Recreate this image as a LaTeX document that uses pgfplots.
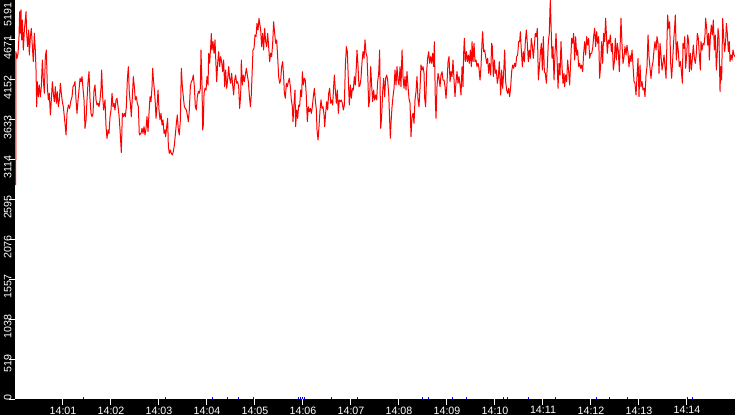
\documentclass[border=0pt]{standalone}
\usepackage{fontspec}
\setmainfont{Liberation Sans}
\usepackage{pgfplots}
\pgfplotsset{compat=1.18}

% time in seconds after 14:00:00, value
\pgfplotstableread{
t v
0.9 2784
1.1 4519
2.5 4432
3.8 4497
5.0 4714
5.8 5039
6.7 4757
7.5 5061
8.3 4671
9.2 4931
10.4 4540
11.7 4801
12.9 4931
13.8 5039
14.6 4757
15.8 4584
17.1 4801
17.9 4475
19.2 4714
20.4 4822
21.7 4584
22.9 4389
24.2 4757
25.4 4540
26.3 4280
27.1 3803
27.9 4128
29.2 3933
30.4 4085
31.7 3933
32.9 4063
34.2 4410
35.4 4150
36.7 3977
37.9 4454
39.2 4540
40.4 4063
41.7 3890
42.9 3977
44.2 3695
45.4 3890
46.7 4128
47.9 3977
49.2 3868
50.4 4063
51.7 3847
52.9 3998
54.2 3803
55.4 3890
56.7 4107
57.9 3977
59.2 3868
60.4 3803
62.5 3586
63.8 3435
65.0 3716
66.7 3825
68.3 3781
69.6 3868
71.3 3933
72.5 4063
73.8 4085
75.0 4128
76.3 3890
77.5 3716
78.8 3890
80.0 4020
81.3 4172
82.5 4128
83.8 4194
85.0 4042
86.3 3890
87.5 3521
88.8 3630
90.0 3890
91.3 4128
92.5 4258
93.8 3890
95.0 3716
96.3 3673
97.5 3716
98.8 4020
100.0 4085
101.3 3890
102.5 3825
103.8 3847
105.0 3803
106.3 3890
107.5 4042
108.3 4280
109.6 3933
110.8 3760
112.5 3890
113.8 3543
115.0 3391
116.3 3500
117.5 3456
118.8 3673
120.0 3760
121.3 3977
122.5 3803
123.8 3847
125.0 3760
126.3 3890
127.5 3912
128.8 3803
130.0 3695
131.3 3500
132.9 3205
134.2 3716
135.4 3673
136.7 3716
137.9 3673
139.2 3803
140.4 4150
141.7 4324
142.9 3977
144.2 3847
145.4 3673
146.7 3933
147.9 4194
149.2 4063
150.4 3890
151.7 3933
152.9 3847
154.2 3803
155.4 3435
157.5 3456
158.8 3521
160.0 3456
161.3 3543
162.5 3435
163.8 3521
165.0 3673
166.3 3478
167.5 3716
168.8 3933
170.0 3868
171.3 4063
172.1 4302
172.9 4172
174.2 4020
175.4 3847
176.3 3651
177.5 3803
178.8 4020
180.0 3760
181.3 3630
182.5 3716
183.8 3565
185.0 3630
186.3 3456
187.5 3500
188.3 3413
189.6 3543
190.8 3651
191.7 3283
192.9 3196
194.2 3239
195.4 3196
196.7 3174
197.9 3218
199.2 3304
200.4 3435
201.7 3586
202.9 3695
204.2 3500
205.4 3435
206.7 3630
207.9 4302
209.2 4063
210.4 3933
211.7 3803
212.9 3781
214.2 3760
215.4 3695
216.7 3608
217.9 3760
219.2 4063
220.4 4128
221.7 4150
222.9 4215
224.2 4063
225.4 3803
226.7 3760
227.9 3933
229.2 4003
230.4 3977
231.7 4042
232.5 4540
233.8 4063
234.6 3500
235.4 3565
236.3 3977
237.5 4042
238.8 4020
240.0 4194
241.3 4085
242.1 4497
243.3 4367
244.6 4584
245.4 4757
246.3 4540
247.5 4649
248.8 4497
250.0 4671
251.3 4324
252.1 4128
253.3 4367
254.6 4519
255.8 4324
257.1 4454
258.3 4389
259.6 4258
260.8 4410
262.1 4063
263.3 4280
264.6 4042
265.8 4150
267.1 4324
268.3 4172
269.6 4107
270.8 4237
272.1 4085
273.3 3955
274.6 4150
275.8 4215
277.1 4107
278.3 4128
279.6 4063
280.8 3781
282.1 3955
282.9 4410
284.2 4085
285.4 4215
286.7 4128
287.9 4215
289.2 4302
290.4 4215
291.7 4128
292.9 3955
294.2 3803
295.4 3955
296.7 4324
297.5 4540
298.8 4562
300.0 4736
301.3 4714
302.5 4887
303.8 4801
305.0 4952
307.1 4801
308.3 4584
309.6 4757
310.8 4540
312.1 4822
313.3 4649
314.6 4584
315.8 4757
317.1 4584
318.3 4389
319.6 4497
320.8 4454
322.1 4627
323.3 4909
324.6 4757
325.8 4627
327.1 4671
328.3 4454
329.6 4194
330.8 4107
332.1 4150
333.3 4324
334.6 4389
335.8 4194
336.7 3977
337.9 3912
339.2 4107
340.4 4063
341.7 4128
342.9 4172
344.2 4063
345.4 3890
346.7 3803
347.5 3608
348.8 3847
350.0 4020
350.8 3543
352.1 3760
353.3 3651
354.6 3825
355.8 3803
357.1 4020
358.3 3933
359.2 4258
360.4 4085
361.7 4172
362.9 4150
364.2 3933
365.4 3608
366.7 3803
367.9 3738
369.2 3781
370.4 3716
371.7 3803
372.9 3933
374.2 4042
375.4 3890
376.7 3760
377.5 3500
378.8 3370
380.0 3543
381.3 3760
382.5 3890
383.8 3781
385.0 3803
386.3 3695
387.1 3543
388.3 3716
389.6 3868
390.8 3760
392.1 3977
393.3 4042
394.6 3847
395.8 3890
397.1 3825
398.3 4063
399.2 4215
400.4 4020
401.7 3847
402.9 4020
404.2 3716
405.4 3890
406.7 3868
407.9 3890
409.2 3847
410.4 3760
411.7 3825
412.9 4324
414.2 4584
415.4 4519
416.7 4150
417.9 3825
419.2 4085
420.4 3912
421.7 4042
422.9 4020
424.2 4194
425.4 4085
426.7 4324
427.5 4540
428.8 4324
430.0 4063
431.3 4085
432.5 4172
433.8 4389
435.0 4519
436.3 4432
437.5 4671
438.8 4497
440.0 4454
441.3 4107
442.1 3803
443.3 3890
444.6 4324
445.8 4085
447.1 3868
448.3 4020
449.6 3890
450.8 3955
452.1 3890
453.3 4128
454.6 4237
455.8 4540
457.1 3521
458.3 3673
459.6 4003
460.8 4172
462.1 3933
463.3 4172
464.6 4215
465.8 4150
467.1 3977
468.3 3630
469.2 3391
470.0 3586
471.3 3803
472.5 3933
473.8 4042
475.0 4280
476.3 4085
477.5 4324
478.8 4150
480.0 4085
481.3 4324
482.5 4063
483.8 4540
485.0 4194
486.3 4042
487.5 4194
488.8 4020
490.0 4258
491.3 4063
492.5 3912
493.8 3847
495.0 3413
496.3 3673
497.5 3716
498.8 3586
500.0 3890
501.3 4003
502.5 4194
503.8 3890
505.0 3803
506.3 4042
507.5 4345
508.8 4280
510.0 4324
511.3 4237
512.1 3912
513.3 3803
514.6 4258
515.8 4432
517.1 4519
518.3 4367
519.6 4454
520.8 4367
522.1 4497
523.3 4324
524.2 4649
525.4 3890
526.3 3651
527.5 4063
528.8 4237
530.0 4172
531.3 4063
532.5 4215
533.8 4258
535.0 4150
536.3 4150
537.5 4063
538.8 3912
540.0 4107
541.3 4389
542.5 4454
543.8 4128
545.0 4258
546.3 4194
547.5 4410
548.8 4150
550.0 3933
551.3 4128
552.5 4258
553.8 4107
555.0 4194
556.3 4085
557.5 3955
558.8 4324
560.0 4063
560.8 4497
561.7 4692
562.9 4389
564.2 4519
565.4 4389
566.7 4475
567.9 4367
569.2 4540
570.4 4324
571.3 4649
572.5 4389
573.8 4627
575.0 4389
576.3 4410
577.5 4324
578.8 4367
580.0 4302
581.3 4150
582.5 4324
583.8 4649
584.6 4779
585.8 4519
587.1 4540
588.3 4454
589.6 4367
590.8 4432
592.1 4237
593.3 4367
594.6 4215
595.8 4627
596.7 4584
597.9 4194
599.2 4410
600.4 4237
601.7 4280
602.9 4107
604.2 4194
605.4 4389
607.1 3955
608.3 4280
609.6 4042
610.8 4237
612.1 4540
613.3 4128
614.6 4020
615.8 3977
617.1 4042
618.3 3933
619.6 4063
620.8 4258
622.1 4345
623.3 4302
624.6 4367
625.8 4324
627.1 4454
628.3 4475
629.6 4649
630.8 4649
631.7 4779
632.9 4540
634.2 4324
635.4 4519
636.7 4389
637.9 4649
639.2 4801
640.4 4627
641.7 4389
642.9 4540
644.2 4432
645.4 4692
646.7 4584
647.9 4432
649.2 4605
650.4 4757
651.7 4714
652.9 4822
654.2 4150
655.4 4302
656.7 4497
657.9 4627
659.2 4280
660.4 4714
661.7 4258
662.9 4237
664.2 4107
665.4 4324
666.7 4649
667.9 4757
668.8 5104
669.2 5191
670.0 4887
671.3 4432
672.5 4584
673.8 4150
675.0 4497
676.3 4757
677.5 4454
678.8 4042
680.0 4367
681.3 4215
682.5 4649
683.8 4324
685.0 4107
686.3 4237
687.1 4063
688.3 4215
689.6 4128
690.8 4410
692.1 4258
693.3 4085
694.6 4389
695.8 4692
697.1 4627
698.3 4757
699.6 4410
700.8 4714
702.1 4475
703.3 4540
704.6 4324
705.8 4367
707.1 4302
708.3 4345
709.6 4258
710.8 4497
712.1 4649
713.3 4475
714.6 4714
715.8 4605
717.1 4692
718.3 4432
719.6 4497
720.8 4497
722.1 4562
723.3 4714
724.6 4822
725.8 4584
727.1 4779
728.3 4627
729.6 4714
730.8 4172
732.1 4345
733.3 4649
734.6 4367
735.8 4757
737.1 4649
738.3 4952
739.2 4757
740.4 4497
741.7 4671
742.9 4627
744.2 4736
745.4 4519
746.7 4627
747.9 4280
749.2 4389
750.4 4692
751.7 4410
752.9 4627
754.2 4519
755.4 4258
757.5 4952
758.8 4605
760.0 4367
761.3 4454
762.5 4584
763.8 4475
765.0 4605
766.3 4497
767.5 4324
768.8 4475
770.0 4389
771.3 4540
772.5 4345
773.8 4128
775.0 4107
776.3 3955
777.5 4194
778.8 4432
780.0 3933
781.3 4345
782.5 4063
783.8 4128
785.0 4020
786.3 4042
787.5 3933
788.8 4215
790.0 4324
791.3 4736
792.5 4454
793.8 4302
795.0 4172
796.3 4324
797.5 4389
798.8 4540
800.0 4649
801.3 4540
802.5 4714
803.8 4627
805.0 4237
806.3 4627
807.5 4475
808.8 4280
810.0 4367
811.3 4475
812.5 4324
813.8 4172
815.0 4671
815.8 4996
817.1 4822
818.3 4909
819.6 4367
820.8 4172
822.1 4410
823.3 4649
824.6 4844
825.4 4996
826.7 4410
827.9 4649
829.2 4519
830.4 4324
831.7 4389
832.9 4280
834.2 4107
835.0 4627
836.3 4562
837.1 4714
838.3 4302
839.6 4475
840.8 4736
842.1 4649
842.9 4258
844.2 4497
845.4 4280
846.7 4432
847.9 4605
849.2 4432
850.4 4367
851.7 4497
852.9 4757
854.2 4692
855.4 4475
856.7 4280
857.5 4649
858.8 4540
860.0 4627
861.3 4605
862.5 4736
863.3 4952
864.6 4822
865.8 4605
867.1 4757
867.9 4410
869.2 4714
870.4 4865
871.7 4736
872.9 4931
874.2 4540
875.4 4736
876.7 4280
877.9 4519
878.8 4822
880.0 4692
881.3 3998
882.1 4324
883.3 4150
884.6 4952
885.8 4714
887.1 4519
888.3 4649
889.2 4887
890.4 4757
891.7 4519
892.9 4649
893.8 4389
895.0 4475
896.3 4410
897.5 4540
898.8 4475
900.0 4454
}\redseries

\begin{document}
\begin{tikzpicture}
% black frame strips (bottom and left)
\fill[black] (-11.25pt,-12pt) rectangle (540pt,0pt);
\fill[black] (-11.25pt,-12pt) rectangle (0pt,299.25pt);
\begin{axis}[
    at={(0pt,0pt)}, anchor=south west,
    scale only axis,
    width=540pt, height=299.25pt,
    xmin=0, xmax=900,
    ymin=0, ymax=5191,
    axis x line*=bottom, axis y line*=left,
    axis line style={draw=none},
    tick align=outside,
    major tick length=4.5pt,
    tick style={white, line width=0.75pt},
    xtick={60,120,...,840},
    xticklabels={14:01,14:02,14:03,14:04,14:05,14:06,14:07,14:08,14:09,14:10,14:11,14:12,14:13,14:14},
    ytick={0,519,1038,1557,2076,2595,3114,3633,4152,4671,5191},
    yticklabels={0,519,1038,1557,2076,2595,3114,3633,4152,4671,{5191\hspace{5pt}\mbox{}}},
    ticklabel style={text=white, font=\fontsize{8}{9}\selectfont, inner sep=0pt},
    xticklabel style={anchor=north, yshift=-1pt},
    yticklabel style={xshift=-1pt, yshift=3.4pt, rotate=90, anchor=east},
  ]
  \addplot[red, line width=0.75pt, line join=round, no marks] table[x=t, y=v] {\redseries};
  \addplot[blue, ycomb, line width=0.75pt, no marks] coordinates {
    (86.25,25) (188.75,25) (247.5,25) (266.25,25) (280,25) (298.75,25)
    (355,25) (357.5,25) (360,25) (362.5,25) (396.25,25) (428.75,25)
    (510,25) (517.5,25) (547.5,25) (565,25) (611.25,25) (616.25,25)
    (642.5,25) (676.25,25) (727.5,25) (743.75,25) (766.25,25)
    (841.25,25) (847.5,25)
  };
\end{axis}
\pgfresetboundingbox
\path[use as bounding box] (-11.25pt,-12pt) rectangle (540pt,299.25pt);
\end{tikzpicture}
\end{document}
